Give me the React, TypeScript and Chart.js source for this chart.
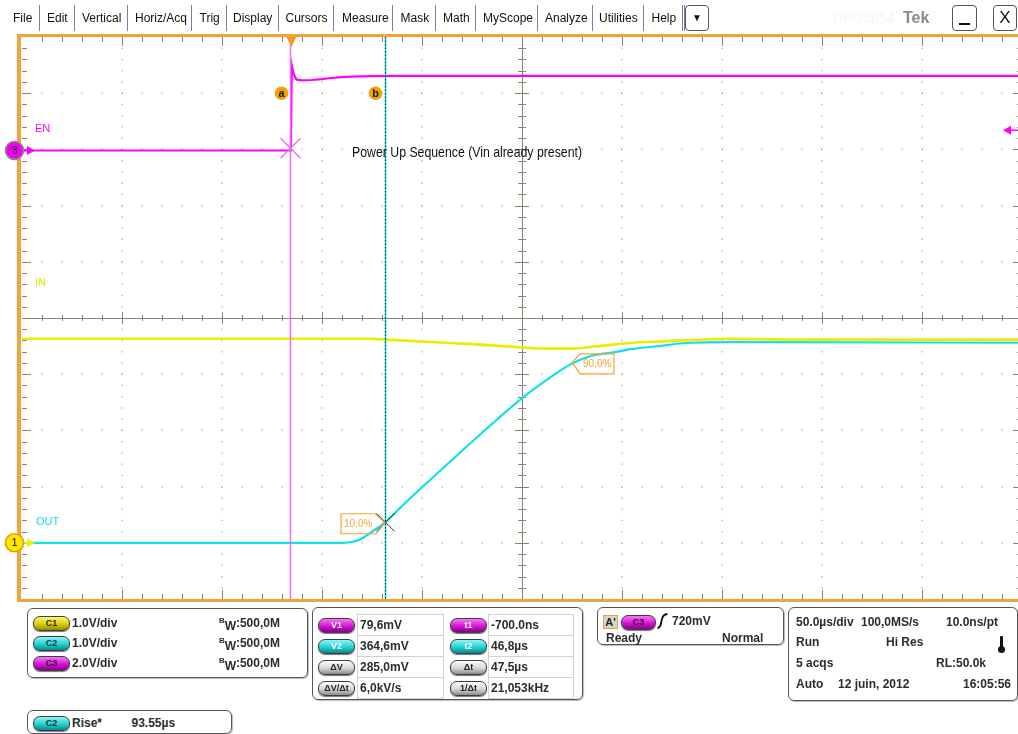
import React, { useEffect, useRef } from "react";
import { Chart, registerables } from "chart.js";

Chart.register(...registerables);

// ---------------- data (time in µs relative to trigger, volts) ----------------
const EN_T = [-134.7, -0.3, 0.2, 1.0, 2.5, 5.0, 10, 15, 20, 25, 30, 40, 55, 365.3];
const EN_V = [0, 0, 3.02, 2.75, 2.53, 2.5, 2.51, 2.54, 2.58, 2.61, 2.63, 2.65, 2.66, 2.66];

const IN_T = [-134.7, 39.3, 47.7, 69.3, 94.3, 114.3, 127.7, 139.3, 152.7, 169.3, 185.8, 219.3, 254.3, 365.3];
const IN_V = [3.63, 3.63, 3.615, 3.574, 3.526, 3.478, 3.455, 3.455, 3.496, 3.556, 3.584, 3.632, 3.615, 3.615];

const OUT_T = [-134.7, 24.3, 29.3, 34.3, 40.8, 46.8, 54.3, 66.0, 86.0, 102.7, 115.5, 127.7, 139.3, 149.3, 161.0, 170.8, 186.0, 199.3, 219.3, 365.3];
const OUT_V = [0, 0, 0.01, 0.06, 0.21, 0.36, 0.62, 1.01, 1.66, 2.19, 2.58, 2.9, 3.17, 3.32, 3.39, 3.45, 3.51, 3.56, 3.57, 3.56];

const CURSOR_T = [-0.7, 46.8];
const CURSOR_V = [0.0796, 0.3646];
const TRIG_LEVEL = 0.72;
const RISE_POINTS_T = [46.8, 140.3];
const RISE_POINTS_V = [0.357, 3.21];
const RISE_LABELS = ["10,0%", "90,0%"];

const X_RANGE = [-134.7, 365.3];
const C1_RANGE = [-1, 9];
const C2_RANGE = [-1, 9];
const C3_RANGE = [-15.96, 4.04];

const CH_LABELS = ["EN", "IN", "OUT"];
const NOTE = "Power Up Sequence (Vin already present)";

const MENU: [string, number][] = [
  ["File", 13], ["Edit", 47], ["Vertical", 82], ["Horiz/Acq", 135], ["Trig", 199.5],
  ["Display", 233], ["Cursors", 285.5], ["Measure", 342], ["Mask", 400.5], ["Math", 443],
  ["MyScope", 483], ["Analyze", 545], ["Utilities", 599], ["Help", 651.5],
];
const SEPS = [38.5, 73.5, 126.5, 191, 226, 278, 333, 392, 434.5, 475, 536.5, 591.5, 642.5, 681.5, 683.5];

const FONT = '"Liberation Sans", Arial, sans-serif';
const ORANGE = "#f2a33a";
const TICK = "#8c8070";

function line(ctx: CanvasRenderingContext2D, x1: number, y1: number, x2: number, y2: number) {
  ctx.beginPath();
  ctx.moveTo(x1, y1);
  ctx.lineTo(x2, y2);
  ctx.stroke();
}

const scopePlugin = {
  id: "scope",
  beforeDatasetsDraw(chart: any) {
    const ctx: CanvasRenderingContext2D = chart.ctx;
    const a = chart.chartArea;
    const L = a.left, R = a.right, T = a.top, B = a.bottom;
    const dx = (R - L) / 10, dy = (B - T) / 10;
    const cx = (L + R) / 2, cy = (T + B) / 2;
    ctx.save();
    // dotted grid
    ctx.fillStyle = "#ababab";
    for (let i = 1; i < 10; i++) {
      if (i === 5) continue;
      const x = Math.round(L + i * dx);
      for (let k = 1; k < 50; k++) ctx.fillRect(x - 0.6, T + (k * dy) / 5 - 0.6, 1.3, 1.3);
    }
    for (let j = 1; j < 10; j++) {
      if (j === 5) continue;
      const y = Math.round(T + j * dy);
      for (let k = 1; k < 50; k++) ctx.fillRect(L + (k * dx) / 5 - 0.6, y - 0.6, 1.3, 1.3);
    }
    // center cross
    ctx.strokeStyle = TICK;
    ctx.lineWidth = 1;
    line(ctx, L, Math.round(cy) + 0.5, R, Math.round(cy) + 0.5);
    line(ctx, Math.round(cx) + 0.5, T, Math.round(cx) + 0.5, B);
    for (let k = 1; k < 50; k++) {
      const x = Math.round(L + (k * dx) / 5) + 0.5;
      const len = k % 5 === 0 ? 6 : 3;
      line(ctx, x, cy - len, x, cy + len);
      const y = Math.round(T + (k * dy) / 5) + 0.5;
      const l2 = k % 5 === 0 ? 7 : 4;
      line(ctx, cx - l2, y, cx + l2, y);
    }
    // edge ticks
    for (let k = 1; k < 50; k++) {
      const x = Math.round(L + (k * dx) / 5) + 0.5;
      const len = k % 5 === 0 ? 9 : 5;
      line(ctx, x, T, x, T + len);
      line(ctx, x, B, x, B - len);
      const y = Math.round(T + (k * dy) / 5) + 0.5;
      line(ctx, L, y, L + len, y);
      line(ctx, R, y, R - len, y);
    }
    ctx.restore();
  },
  afterDraw(chart: any) {
    const ctx: CanvasRenderingContext2D = chart.ctx;
    const a = chart.chartArea;
    const L = a.left, T = a.top, B = a.bottom;
    const dy = (B - T) / 10;
    const xs = chart.scales.x, y2 = chart.scales.yC2, y3 = chart.scales.yC3, y1 = chart.scales.yC1;
    ctx.save();
    const xa = Math.round(xs.getPixelForValue(CURSOR_T[0])) + 0.5;
    const xb = Math.round(xs.getPixelForValue(CURSOR_T[1])) + 0.5;
    // cursor a
    ctx.strokeStyle = "#f070f0";
    ctx.lineWidth = 1.5;
    line(ctx, xa, T, xa, B);
    // cursor b (cyan with dark dots)
    ctx.strokeStyle = "#14d6de";
    ctx.lineWidth = 1.6;
    line(ctx, xb, T, xb, B);
    ctx.setLineDash([1.5, 2]);
    ctx.strokeStyle = "#0e2c34";
    ctx.lineWidth = 1;
    line(ctx, xb, T, xb, B);
    ctx.setLineDash([]);
    // X markers
    const crossAt = (x: number, y: number, s: number, c: string, w: number) => {
      ctx.strokeStyle = c;
      ctx.lineWidth = w;
      line(ctx, x - s, y - s, x + s, y + s);
      line(ctx, x - s, y + s, x + s, y - s);
    };
    crossAt(xa, y3.getPixelForValue(CURSOR_V[0]), 10, "#f466f4", 1.2);
    crossAt(xb, y2.getPixelForValue(CURSOR_V[1]), 9, "#1b3b44", 1);

    // rise labels
    ctx.strokeStyle = "#f5a52c";
    ctx.fillStyle = "#f5a52c";
    ctx.lineWidth = 1.2;
    ctx.font = `10px ${FONT}`;
    ctx.textBaseline = "middle";
    ctx.textAlign = "left";
    {
      const px = xs.getPixelForValue(RISE_POINTS_T[0]);
      const py = y2.getPixelForValue(RISE_POINTS_V[0]);
      ctx.beginPath();
      ctx.moveTo(px - 44, py - 9);
      ctx.lineTo(px - 10, py - 9);
      ctx.lineTo(px, py);
      ctx.lineTo(px - 9, py + 11);
      ctx.lineTo(px - 44, py + 11);
      ctx.closePath();
      ctx.stroke();
      ctx.fillText(RISE_LABELS[0], px - 41, py + 1.5);
    }
    {
      const px = xs.getPixelForValue(RISE_POINTS_T[1]);
      const py = y2.getPixelForValue(RISE_POINTS_V[1]);
      ctx.beginPath();
      ctx.moveTo(px, py);
      ctx.lineTo(px + 8, py - 8.5);
      ctx.lineTo(px + 42, py - 8.5);
      ctx.lineTo(px + 42, py + 11.5);
      ctx.lineTo(px + 8, py + 11.5);
      ctx.closePath();
      ctx.stroke();
      ctx.fillText(RISE_LABELS[1], px + 11, py + 1.5);
    }

    // cursor handles a / b
    const handle = (x: number, txt: string) => {
      ctx.fillStyle = "#f3a300";
      ctx.beginPath();
      ctx.arc(x, T + dy, 6.8, 0, Math.PI * 2);
      ctx.fill();
      ctx.fillStyle = "#1a1000";
      ctx.font = `bold 11px ${FONT}`;
      ctx.textAlign = "center";
      ctx.fillText(txt, x, T + dy + 0.5);
    };
    handle(xa - 9, "a");
    handle(xb - 10, "b");

    // trigger position marker
    const xt = xs.getPixelForValue(0);
    ctx.fillStyle = "#f39a1c";
    ctx.beginPath();
    ctx.moveTo(xt - 5, T);
    ctx.lineTo(xt + 5, T);
    ctx.lineTo(xt, T + 10);
    ctx.closePath();
    ctx.fill();

    // trigger level arrow (right)
    const yt = y3.getPixelForValue(TRIG_LEVEL);
    ctx.fillStyle = "#ff00ff";
    ctx.strokeStyle = "#ff00ff";
    ctx.beginPath();
    ctx.moveTo(1003, yt);
    ctx.lineTo(1011, yt - 4.5);
    ctx.lineTo(1011, yt + 4.5);
    ctx.closePath();
    ctx.fill();
    ctx.lineWidth = 1.5;
    line(ctx, 1010, yt, 1018, yt);

    // channel labels
    ctx.textAlign = "left";
    ctx.font = `11px ${FONT}`;
    ctx.fillStyle = "#ff00ff";
    ctx.fillText(CH_LABELS[0], 35, 128.5);
    ctx.fillStyle = "#e6e600";
    ctx.fillText(CH_LABELS[1], 35, 282.5);
    ctx.fillStyle = "#10dcec";
    ctx.fillText(CH_LABELS[2], 36, 522);

    // note text (condensed)
    ctx.font = `14.5px ${FONT}`;
    ctx.fillStyle = "#111";
    const w = ctx.measureText(NOTE).width;
    ctx.save();
    ctx.translate(352, 152.5);
    ctx.scale(230 / w, 1);
    ctx.fillText(NOTE, 0, 0);
    ctx.restore();

    // orange frame
    ctx.fillStyle = ORANGE;
    ctx.fillRect(17, T - 3, 1040, 3);
    ctx.fillRect(17, T - 3, L - 18, B - T + 6);
    ctx.fillRect(17, B, 1040, 3);

    // channel markers
    const marker = (y: number, fill: string, stroke: string, txt: string, arrow: string) => {
      ctx.fillStyle = arrow;
      ctx.beginPath();
      ctx.moveTo(35, y);
      ctx.lineTo(27, y - 4.5);
      ctx.lineTo(27, y + 4.5);
      ctx.closePath();
      ctx.fill();
      ctx.strokeStyle = arrow;
      ctx.lineWidth = 1.5;
      line(ctx, 22, y, 28, y);
      ctx.beginPath();
      ctx.arc(14.5, y, 9, 0, Math.PI * 2);
      ctx.fillStyle = fill;
      ctx.fill();
      ctx.lineWidth = 1.6;
      ctx.strokeStyle = stroke;
      ctx.stroke();
      ctx.fillStyle = "#111";
      ctx.font = `11px ${FONT}`;
      ctx.textAlign = "center";
      ctx.fillText(txt, 14.5, y + 0.5);
    };
    marker(y3.getPixelForValue(0), "#ee00ee", "#8a8a8a", "3", "#ff00ff");
    marker(y1.getPixelForValue(0), "#ffe600", "#e2a000", "1", "#f0ee00");
    ctx.restore();
  },
};

function Txt(p: { x: number; y: number; children: any; size?: number; bold?: boolean; color?: string }) {
  return (
    <span
      style={{
        position: "absolute",
        left: p.x,
        top: p.y - 8,
        lineHeight: "16px",
        fontSize: p.size ?? 12,
        fontWeight: p.bold === false ? "normal" : "bold",
        whiteSpace: "nowrap",
        color: p.color ?? "#2c2c2c",
      }}
    >
      {p.children}
    </span>
  );
}

const PILL_BG: Record<string, string> = {
  y: "linear-gradient(#fbf67a, #dcd000 55%, #958a00)",
  c: "linear-gradient(#8ff4f4, #22d2d2 55%, #078a8a)",
  m: "linear-gradient(#f47af4, #d414d4 55%, #870087)",
  g: "linear-gradient(#fdfdfd, #d6d6d6 55%, #8c8c8c)",
};

function Pill(p: { x: number; y: number; w?: number; c: string; label: string; tc?: string }) {
  const w = p.w ?? 35;
  return (
    <span
      style={{
        position: "absolute",
        left: p.x,
        top: p.y - 7,
        width: w,
        height: 13,
        borderRadius: 7,
        border: "1px solid #3e3e3e",
        background: PILL_BG[p.c],
        boxShadow: "0 1px 1px #777",
        fontSize: 9,
        fontWeight: "bold",
        lineHeight: "13px",
        textAlign: "center",
        color: p.tc ?? "#222",
        boxSizing: "content-box",
      }}
    >
      {p.label}
    </span>
  );
}

function Box(p: { x: number; y: number; w: number; h: number }) {
  return (
    <div
      style={{
        position: "absolute",
        left: p.x,
        top: p.y,
        width: p.w,
        height: p.h,
        border: "1.5px solid #555",
        borderRadius: 6,
        boxSizing: "border-box",
        boxShadow: "1px 1px 1px #bbb",
      }}
    />
  );
}

function BW(p: { x: number; y: number }) {
  return (
    <span style={{ position: "absolute", left: p.x, top: p.y - 8, lineHeight: "16px", fontSize: 12, fontWeight: "bold", color: "#2c2c2c", whiteSpace: "nowrap" }}>
      <span style={{ fontSize: 8, position: "relative", top: -4 }}>B</span>
      <span style={{ position: "relative", top: 3 }}>W</span>:500,0M
    </span>
  );
}

function Cell(p: { x: number; y: number; w: number; h: number }) {
  return <div style={{ position: "absolute", left: p.x, top: p.y, width: p.w, height: p.h, border: "1px solid #d2d2d2", boxSizing: "border-box" }} />;
}

export default function App() {
  const ref = useRef<HTMLCanvasElement | null>(null);

  useEffect(() => {
    if (!ref.current) return;
    const mk = (ts: number[], vs: number[]) => ts.map((t, i) => ({ x: t, y: vs[i] }));
    const chart = new Chart(ref.current, {
      type: "line",
      data: {
        datasets: [
          { label: "EN", data: mk(EN_T, EN_V), yAxisID: "yC3", borderColor: "#ff00ff", borderWidth: 2.2, pointRadius: 0, tension: 0, order: 1 },
          { label: "OUT", data: mk(OUT_T, OUT_V), yAxisID: "yC2", borderColor: "#12dfe8", borderWidth: 2.2, pointRadius: 0, cubicInterpolationMode: "monotone", order: 2 },
          { label: "IN", data: mk(IN_T, IN_V), yAxisID: "yC1", borderColor: "#ecec00", borderWidth: 2.6, pointRadius: 0, cubicInterpolationMode: "monotone", order: 3 },
        ],
      },
      options: {
        responsive: false,
        animation: false,
        events: [],
        layout: { padding: { left: 22, top: 37, right: 18, bottom: 13 } },
        scales: {
          x: { type: "linear", min: X_RANGE[0], max: X_RANGE[1], display: false },
          yC1: { type: "linear", min: C1_RANGE[0], max: C1_RANGE[1], display: false },
          yC2: { type: "linear", min: C2_RANGE[0], max: C2_RANGE[1], display: false },
          yC3: { type: "linear", min: C3_RANGE[0], max: C3_RANGE[1], display: false },
        },
        plugins: { legend: { display: false }, tooltip: { enabled: false } },
      },
      plugins: [scopePlugin],
    } as any);
    return () => chart.destroy();
  }, []);

  return (
    <div style={{ position: "fixed", left: 0, top: 0, width: 1018, height: 734, overflow: "hidden", background: "#fff", fontFamily: FONT }}>
      <canvas ref={ref} width={1040} height={612} style={{ position: "absolute", left: 0, top: 0, width: 1040, height: 612 }} />

      {/* menu bar */}
      {MENU.map(([t, x]) => (
        <Txt key={t} x={x} y={18} bold={false} color="#111">{t}</Txt>
      ))}
      {SEPS.map((x, i) => (
        <div key={i} style={{ position: "absolute", left: x, top: 5, width: 1, height: 26, background: "#7282a8" }} />
      ))}
      <div style={{ position: "absolute", left: 685, top: 5, width: 24, height: 26, border: "1.5px solid #555", borderRadius: 4, boxSizing: "border-box", textAlign: "center", lineHeight: "23px", fontSize: 10, color: "#111" }}>▼</div>
      <Txt x={833} y={18} size={14} color="#f8f8f8">DPO5054</Txt>
      <Txt x={903} y={18} size={16} color="#8a8a8a">Tek</Txt>
      <div style={{ position: "absolute", left: 952, top: 5, width: 25, height: 26, border: "1.5px solid #555", borderRadius: 4, boxSizing: "border-box" }}>
        <div style={{ position: "absolute", left: 6, top: 17, width: 11, height: 2, background: "#111" }} />
      </div>
      <div style={{ position: "absolute", left: 993, top: 5, width: 24, height: 26, border: "1.5px solid #555", borderRadius: 4, boxSizing: "border-box", textAlign: "center", lineHeight: "24px", fontSize: 17, color: "#111" }}>X</div>

      {/* channel panel */}
      <Box x={27} y={608} w={281} h={70} />
      <Pill x={33} y={622.5} c="y" label="C1" />
      <Pill x={33} y={642.5} c="c" label="C2" tc="#133" />
      <Pill x={33} y={662.5} c="m" label="C3" tc="#303" />
      <Txt x={72} y={622.5}>1.0V/div</Txt>
      <Txt x={72} y={642.5}>1.0V/div</Txt>
      <Txt x={72} y={662.5}>2.0V/div</Txt>
      <BW x={219} y={622.5} />
      <BW x={219} y={642.5} />
      <BW x={219} y={662.5} />

      {/* cursor readout panel */}
      <Box x={312} y={607} w={271} h={93} />
      {[614, 635, 656, 677].map((y) => (
        <React.Fragment key={y}>
          <Cell x={357} y={y} w={87} h={22} />
          <Cell x={488} y={y} w={86} h={22} />
        </React.Fragment>
      ))}
      <Pill x={318} y={624.5} c="m" label="V1" tc="#fff" />
      <Pill x={318} y={645.5} c="c" label="V2" tc="#fff" />
      <Pill x={318} y={666.5} c="g" label="ΔV" />
      <Pill x={318} y={687.5} c="g" label="ΔV/Δt" />
      <Pill x={450} y={624.5} c="m" label="t1" tc="#fff" />
      <Pill x={450} y={645.5} c="c" label="t2" tc="#fff" />
      <Pill x={450} y={666.5} c="g" label="Δt" />
      <Pill x={450} y={687.5} c="g" label="1/Δt" />
      <Txt x={360} y={624.5}>79,6mV</Txt>
      <Txt x={360} y={645.5}>364,6mV</Txt>
      <Txt x={360} y={666.5}>285,0mV</Txt>
      <Txt x={360} y={687.5}>6,0kV/s</Txt>
      <Txt x={491} y={624.5}>-700.0ns</Txt>
      <Txt x={491} y={645.5}>46,8µs</Txt>
      <Txt x={491} y={666.5}>47,5µs</Txt>
      <Txt x={491} y={687.5}>21,053kHz</Txt>

      {/* trigger panel */}
      <Box x={597} y={607} w={187} h={38} />
      <div style={{ position: "absolute", left: 603, top: 615, width: 15, height: 14, background: "#d4d4d4", border: "1px solid #f0a030", boxSizing: "border-box", fontSize: 11, fontWeight: "bold", lineHeight: "12px", textAlign: "center", color: "#222" }}>A'</div>
      <Pill x={621} y={622} w={33} c="m" label="C3" tc="#303" />
      <svg style={{ position: "absolute", left: 657, top: 613 }} width={11} height={16}>
        <path d="M0.5 15 Q3.5 15 4.5 8 Q5.5 1 10.5 1" stroke="#111" strokeWidth={1.8} fill="none" />
      </svg>
      <Txt x={672} y={621}>720mV</Txt>
      <Txt x={606} y={638}>Ready</Txt>
      <Txt x={722} y={638}>Normal</Txt>

      {/* horizontal / acquisition panel */}
      <Box x={788} y={607} w={230} h={94} />
      <Txt x={796} y={621.5}>50.0µs/div</Txt>
      <Txt x={861} y={621.5}>100,0MS/s</Txt>
      <Txt x={946} y={621.5}>10.0ns/pt</Txt>
      <Txt x={796} y={642}>Run</Txt>
      <Txt x={886} y={642}>Hi Res</Txt>
      <div style={{ position: "absolute", left: 1000, top: 636, width: 3, height: 13, background: "#111", borderRadius: 1 }} />
      <div style={{ position: "absolute", left: 998, top: 646, width: 7, height: 7, background: "#111", borderRadius: 4 }} />
      <Txt x={796} y={662.5}>5 acqs</Txt>
      <Txt x={936} y={662.5}>RL:50.0k</Txt>
      <Txt x={796} y={684}>Auto</Txt>
      <Txt x={838} y={684}>12 juin, 2012</Txt>
      <Txt x={963} y={684}>16:05:56</Txt>

      {/* measurement */}
      <Box x={27} y={710} w={205} h={24} />
      <Pill x={33} y={722.5} c="c" label="C2" tc="#133" />
      <Txt x={72} y={722.5}>Rise*</Txt>
      <Txt x={131.5} y={722.5}>93.55µs</Txt>
    </div>
  );
}
